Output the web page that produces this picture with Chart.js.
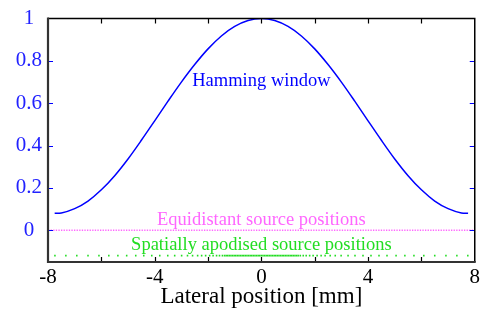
<!DOCTYPE html>
<html>
<head>
<meta charset="utf-8">
<script src="https://cdn.jsdelivr.net/npm/chart.js@4/dist/chart.umd.min.js"></script>
<style>
  body { margin: 0; background: #fff; }
  canvas { display: block; }
</style>
</head>
<body>
<canvas id="chart" width="483" height="311"></canvas>
<script>
// Hamming window curve
const hammingX = [-7.75, -7.5, -7, -6.5, -6, -5.5, -5, -4.5, -4, -3.5, -3, -2.5, -2, -1.5, -1, -0.5,
  0, 0.5, 1, 1.5, 2, 2.5, 3, 3.5, 4, 4.5, 5, 5.5, 6, 6.5, 7, 7.5, 7.75];
const hammingY = [0.08, 0.082, 0.102, 0.138, 0.191, 0.258, 0.337, 0.425, 0.517, 0.61, 0.70, 0.783, 0.857, 0.918, 0.963, 0.991,
  1, 0.991, 0.963, 0.918, 0.857, 0.783, 0.70, 0.61, 0.517, 0.425, 0.337, 0.258, 0.191, 0.138, 0.102, 0.082, 0.08];

// equidistant sources: dotted line along zero
const equidistantX = [-8, 8];
const equidistantLevel = 0;

// spatially apodised source positions [mm]
const apodisedX = [-7.74, -7.33, -6.92, -6.5, -6.09, -5.72, -5.38, -5.05, -4.71, -4.41, -4.11, -3.81, -3.51,
  -3.25, -2.99, -2.77, -2.58, -2.39, -2.24, -2.09, -1.94, -1.81, -1.68, -1.57, -1.46,
  -1.38, -1.32, -1.26, -1.2, -1.14, -1.08, -1.02, -0.96, -0.9, -0.84, -0.78, -0.72, -0.66, -0.6,
  -0.54, -0.48, -0.42, -0.36, -0.3, -0.24, -0.18, -0.12, -0.06, 0, 0.06, 0.12, 0.18, 0.24, 0.3,
  0.36, 0.42, 0.48, 0.54, 0.6, 0.66, 0.72, 0.78, 0.84, 0.9, 0.96, 1.02, 1.08, 1.14, 1.2, 1.26, 1.32, 1.38,
  1.46, 1.57, 1.68, 1.81, 1.94, 2.09, 2.24, 2.39, 2.58, 2.77, 2.99, 3.25, 3.51, 3.81, 4.11, 4.41,
  4.71, 5.05, 5.38, 5.72, 6.09, 6.5, 6.92, 7.33, 7.74];
const apodisedLevel = -0.12;

const xTickLabels = [-8, -4, 0, 4, 8];
const xTickMarks = [-6, -4, -2, 0, 2, 4, 6];
const yTickLabels = [0, 0.2, 0.4, 0.6, 0.8, 1];
const yTickMarks = [0, 0.2, 0.4, 0.6, 0.8];

const blue = '#0000ff';
const pink = '#ff66ff';
const green = '#22dd22';

Chart.defaults.font.family = '"Liberation Serif", serif';

const framePlugin = {
  id: 'frame',
  afterDraw(chart) {
    const { ctx, chartArea: a, scales } = chart;
    ctx.save();
    ctx.lineWidth = 1.2;
    ctx.strokeStyle = '#000';
    xTickMarks.forEach((v) => {
      const px = Math.round(scales.x.getPixelForValue(v)) + 0.5;
      ctx.beginPath();
      ctx.moveTo(px, a.bottom);
      ctx.lineTo(px, a.bottom - 5);
      ctx.moveTo(px, a.top);
      ctx.lineTo(px, a.top + 5);
      ctx.stroke();
    });
    ctx.strokeStyle = blue;
    yTickMarks.forEach((v) => {
      const py = Math.round(scales.y.getPixelForValue(v)) + 0.5;
      ctx.beginPath();
      ctx.moveTo(a.left, py);
      ctx.lineTo(a.left + 5, py);
      ctx.moveTo(a.right, py);
      ctx.lineTo(a.right - 5, py);
      ctx.stroke();
    });
    ctx.strokeStyle = '#000';
    ctx.lineWidth = 1.5;
    ctx.beginPath();
    ctx.moveTo(a.left, a.top);
    ctx.lineTo(a.right, a.top);
    ctx.lineTo(a.right, a.bottom);
    ctx.stroke();
    ctx.strokeStyle = '#333';
    ctx.lineWidth = 2.2;
    ctx.beginPath();
    ctx.moveTo(a.left, a.top - 1);
    ctx.lineTo(a.left, a.bottom);
    ctx.lineTo(a.right + 1, a.bottom);
    ctx.stroke();

    // annotations
    ctx.textAlign = 'center';
    ctx.textBaseline = 'middle';
    const cx = scales.x.getPixelForValue(0);
    ctx.font = '18.5px "Liberation Serif", serif';
    ctx.fillStyle = blue;
    ctx.fillText('Hamming window', cx, scales.y.getPixelForValue(0.706));
    ctx.fillStyle = pink;
    ctx.fillText('Equidistant source positions', cx, scales.y.getPixelForValue(0.05));
    ctx.fillStyle = green;
    ctx.fillText('Spatially apodised source positions', cx, scales.y.getPixelForValue(-0.07));
    ctx.restore();
  }
};

new Chart(document.getElementById('chart').getContext('2d'), {
  type: 'scatter',
  data: {
    datasets: [
      {
        data: hammingX.map((x, i) => ({ x: x, y: hammingY[i] })),
        showLine: true,
        borderColor: blue,
        borderWidth: 1.5,
        pointRadius: 0,
        cubicInterpolationMode: 'monotone',
      },
      {
        data: equidistantX.map((x) => ({ x: x, y: equidistantLevel })),
        showLine: true,
        borderColor: pink,
        borderWidth: 1.3,
        borderDash: [1.3, 1.3],
        pointRadius: 0,
      },
      {
        data: apodisedX.map((x) => ({ x: x, y: apodisedLevel })),
        showLine: false,
        pointStyle: 'rect',
        pointRadius: 1.1,
        backgroundColor: green,
        borderWidth: 0,
      },
    ],
  },
  options: {
    responsive: false,
    animation: false,
    layout: { padding: { top: 16, right: 7, left: 0, bottom: 0 } },
    plugins: { legend: { display: false }, tooltip: { enabled: false } },
    scales: {
      x: {
        type: 'linear',
        min: -8,
        max: 8,
        afterBuildTicks: (s) => { s.ticks = xTickLabels.map((v) => ({ value: v })); },
        grid: { display: false, drawTicks: false },
        border: { display: false },
        ticks: { color: '#000', font: { size: 21 }, padding: 3, maxRotation: 0, autoSkip: false },
        title: { display: true, text: 'Lateral position [mm]', color: '#000', font: { size: 23 }, padding: { top: 0, bottom: 0 } },
        afterFit: (s) => { s.height = 49; },
      },
      y: {
        min: -0.15,
        max: 1,
        afterBuildTicks: (s) => { s.ticks = yTickLabels.map((v) => ({ value: v })); },
        grid: { display: false, drawTicks: false },
        border: { display: false },
        ticks: { color: '#2222ff', font: { size: 21 }, padding: 6, crossAlign: 'center', callback: (v) => String(v) },
        afterFit: (s) => { s.width = 48; },
      },
    },
  },
  plugins: [framePlugin],
});
</script>
</body>
</html>
